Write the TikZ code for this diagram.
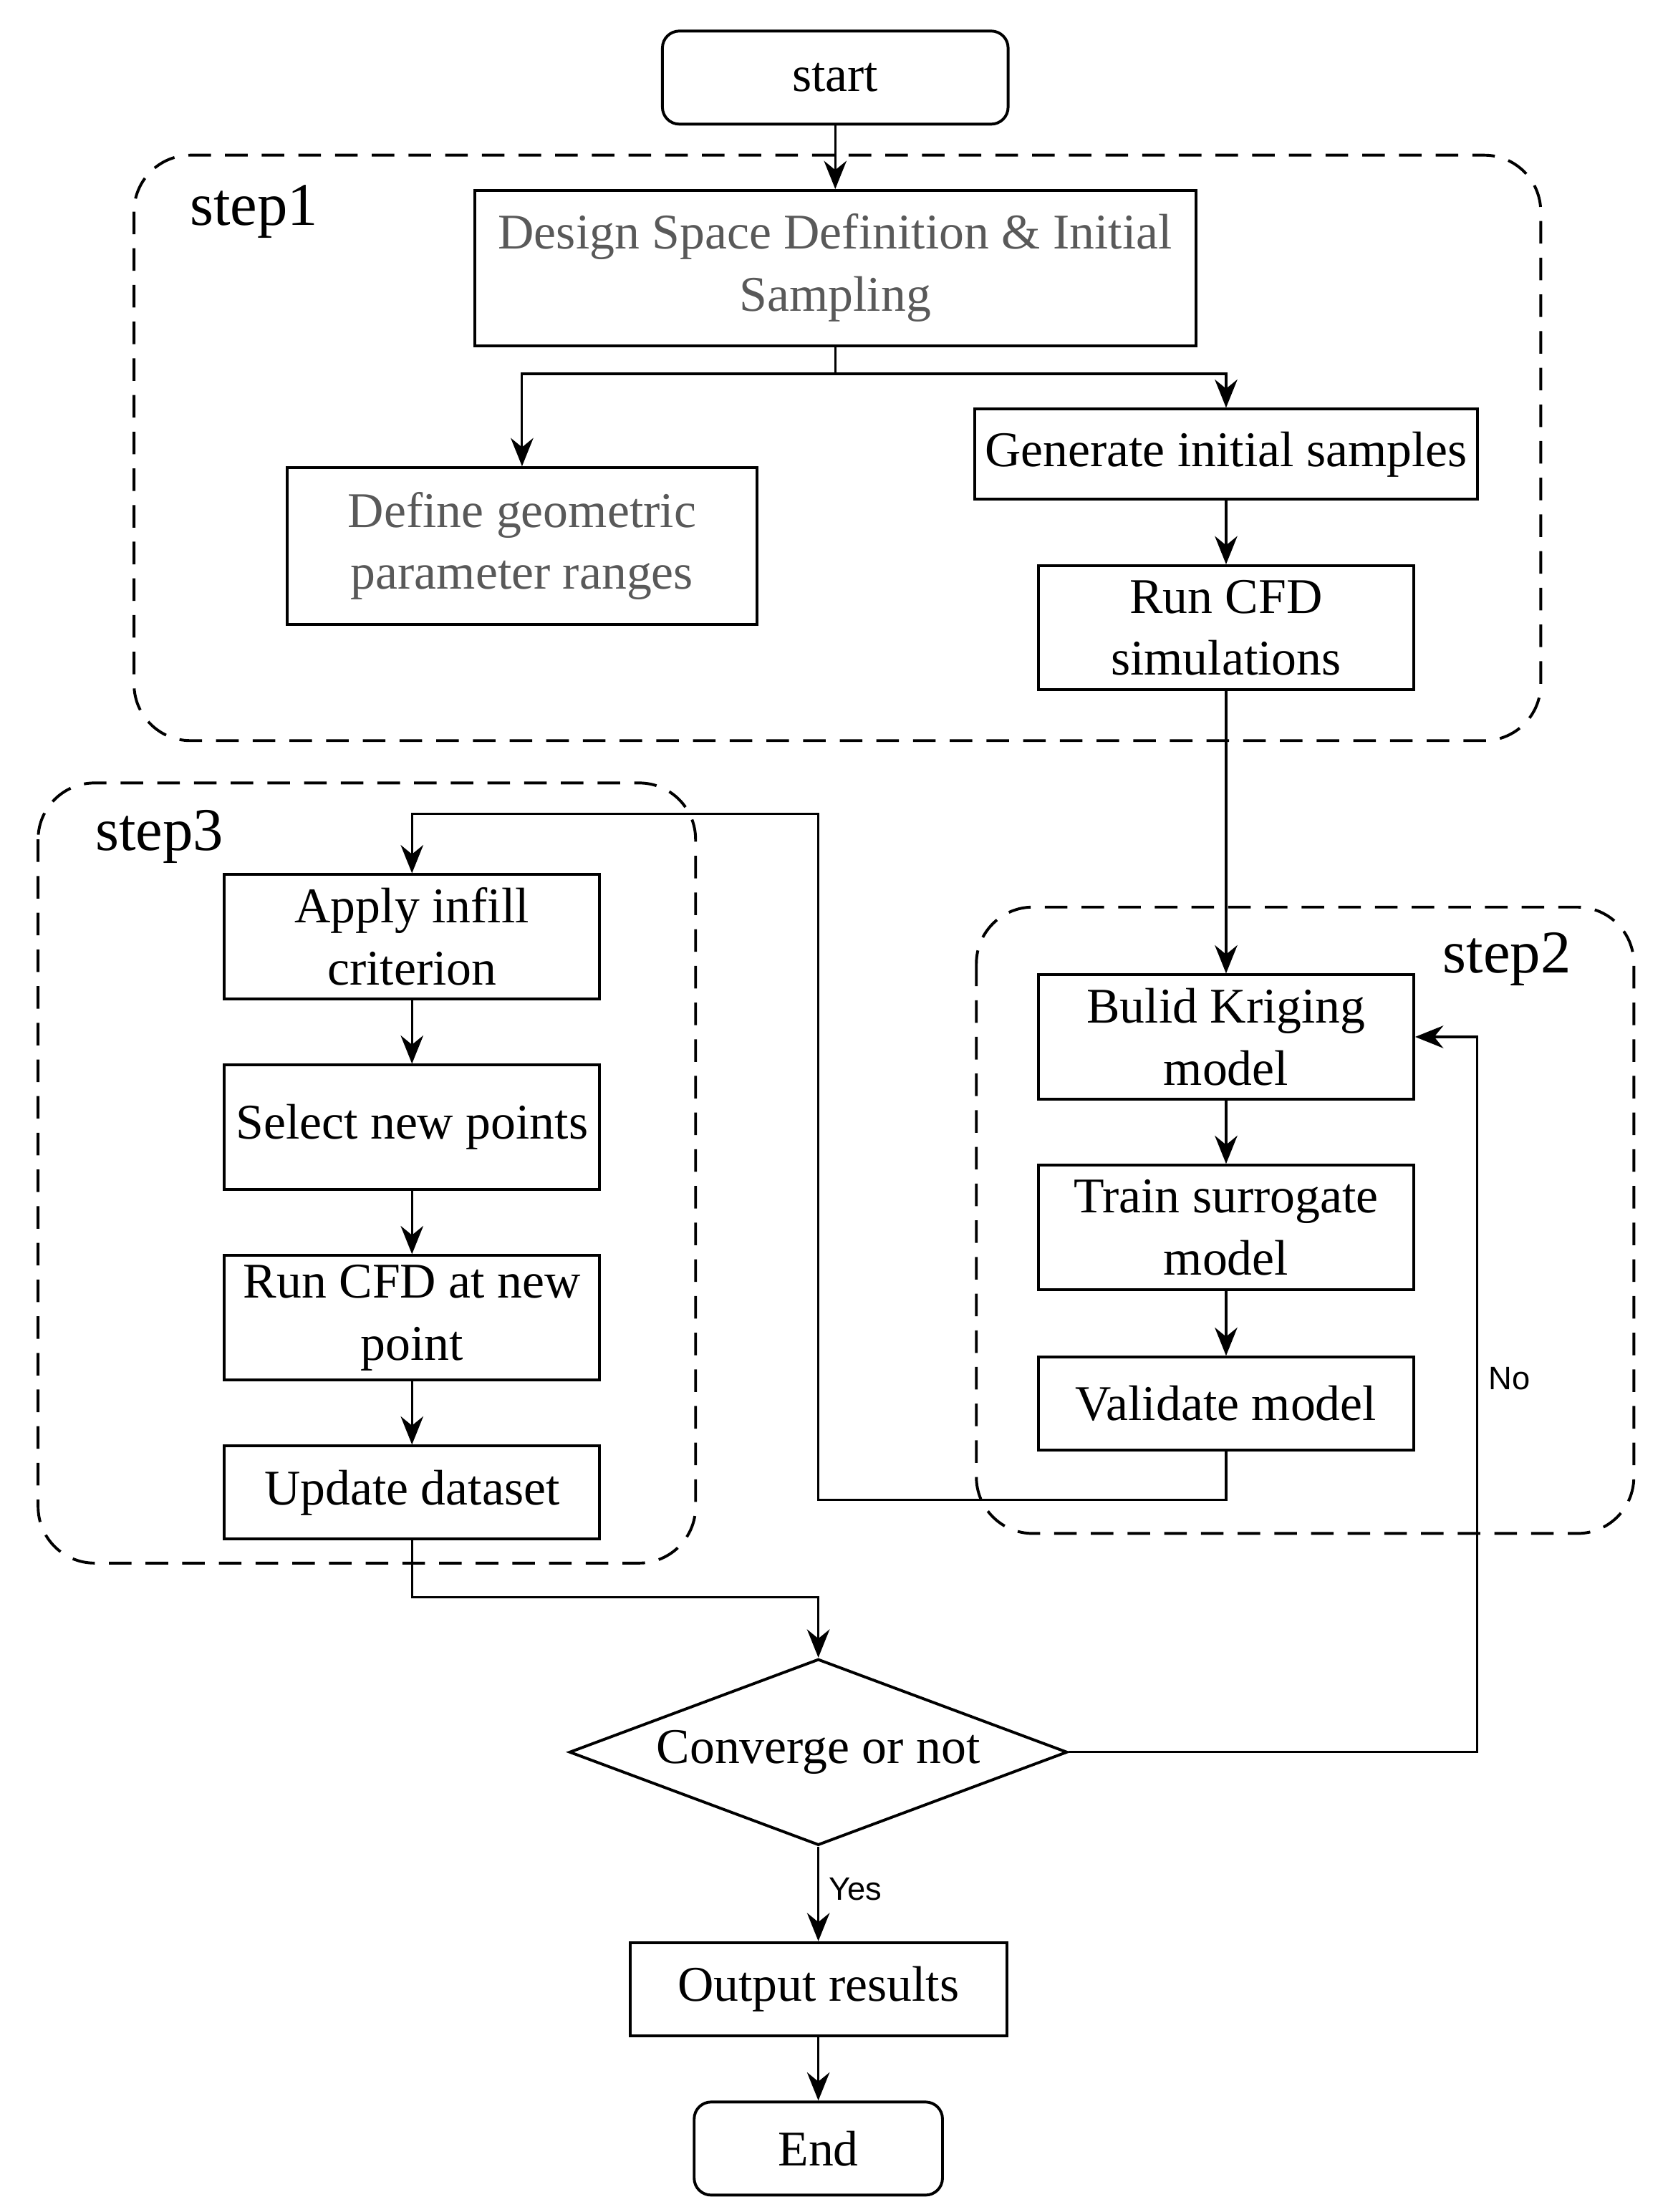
\documentclass[tikz,border=0pt]{standalone}
\usepackage{fontspec}
\setmainfont{Liberation Serif}
\newfontfamily\yesnofont{Liberation Sans}
\usetikzlibrary{arrows.meta, shapes.geometric, positioning}

\begin{document}
\begin{tikzpicture}[
  x=0.5pt, y=-0.5pt,
  box/.style={rectangle, draw, line width=1pt, minimum height=44pt, minimum width=133pt, inner sep=2pt, align=center, font=\fontsize{17.7}{22}\selectfont},
  grey/.style={box, text=black!65},
  term/.style={box, rounded corners=6pt, minimum height=33pt},
  decision/.style={diamond, draw, line width=1pt, aspect=2.67, inner sep=1pt, minimum width=176.5pt, minimum height=66pt, font=\fontsize{17.7}{22}\selectfont},
  group/.style={draw, dash pattern=on 8pt off 5pt, line width=1pt, rounded corners=20pt},
  steplbl/.style={font=\fontsize{21.5}{24}\selectfont},
  line/.style={line width=0.8pt},
  arrow/.style={-{Stealth[length=10pt, width=8pt]}, line width=0.8pt},
  lbl/.style={font=\yesnofont\fontsize{11.5}{13}\selectfont}
]
\useasboundingbox (0,0) rectangle (1182,1568);

% Cadres des étapes
\draw[group] (95,110) rectangle (1092,525);
\draw[group] (692,643) rectangle (1158,1087);
\draw[group] (27,555) rectangle (493,1108);
\node[steplbl] (s1) at (180,150) {step1};
\node[steplbl] (s2) at (1068,680) {step2};
\node[steplbl] (s3) at (113,593) {step3};

% Step 1
\node[term, minimum width=122.5pt] (start) at (592,55) {start};
\node[grey, minimum width=255.5pt, minimum height=55pt, below=22.5pt of start] (design) {Design Space Definition \& Initial\\Sampling};
\node[grey, minimum width=166.5pt, minimum height=55.5pt] (define) at (370,387) {Define geometric\\parameter ranges};
\node[box, minimum width=178pt, minimum height=32pt] (gen) at (869,322) {Generate initial samples};
\node[box, below=22.5pt of gen] (runcfd) {Run CFD\\simulations};

% Step 2
\node[box, below=100pt of runcfd] (kriging) {Bulid Kriging\\model};
\node[box, below=22.5pt of kriging] (train) {Train surrogate\\model};
\node[box, minimum height=33pt, below=23pt of train] (validate) {Validate model};

% Step 3
\node[box] (apply) at (292,664) {Apply infill\\criterion};
\node[box, below=22.5pt of apply] (select) {Select new points};
\node[box, below=22.5pt of select] (runnew) {Run CFD at new\\point};
\node[box, minimum height=33pt, below=22.5pt of runnew] (update) {Update dataset};

% Décision et fin
\node[decision] (conv) at (580,1242) {Converge or not};
\node[box, minimum width=133.5pt, minimum height=33pt, below=33.5pt of conv] (output) {Output results};
\node[term, minimum width=88pt, below=22.5pt of output] (end) {End};

% Points de passage
\coordinate (split) at (592,265);
\coordinate (backup) at (580,1063);
\coordinate (backtop) at (580,577);
\coordinate (merge) at (580,1132);
\coordinate (noturn) at (1047,1242);

% Flèches step 1
\draw[arrow] (start) -- (design);
\draw[line] (design.south) -- (split);
\draw[arrow] (split) -| (define.north);
\draw[arrow] (split) -| (gen.north);
\draw[arrow] (gen) -- (runcfd);
\draw[arrow] (runcfd) -- (kriging);

% Flèches step 2
\draw[arrow] (kriging) -- (train);
\draw[arrow] (train) -- (validate);
\draw[arrow] (validate.south) |- (backup) -- (backtop) -| (apply.north);

% Flèches step 3
\draw[arrow] (apply) -- (select);
\draw[arrow] (select) -- (runnew);
\draw[arrow] (runnew) -- (update);
\draw[arrow] (update.south) |- (merge) -- (conv.north);

% Boucle et sortie
\draw[arrow] (conv.east) -- (noturn) |- (kriging.east);
\node[lbl] (no) at (1070,977) {No};
\draw[arrow] (conv.south) -- node[right, lbl, pos=0.45] {Yes} (output.north);
\draw[arrow] (output) -- (end);

\end{tikzpicture}
\end{document}
